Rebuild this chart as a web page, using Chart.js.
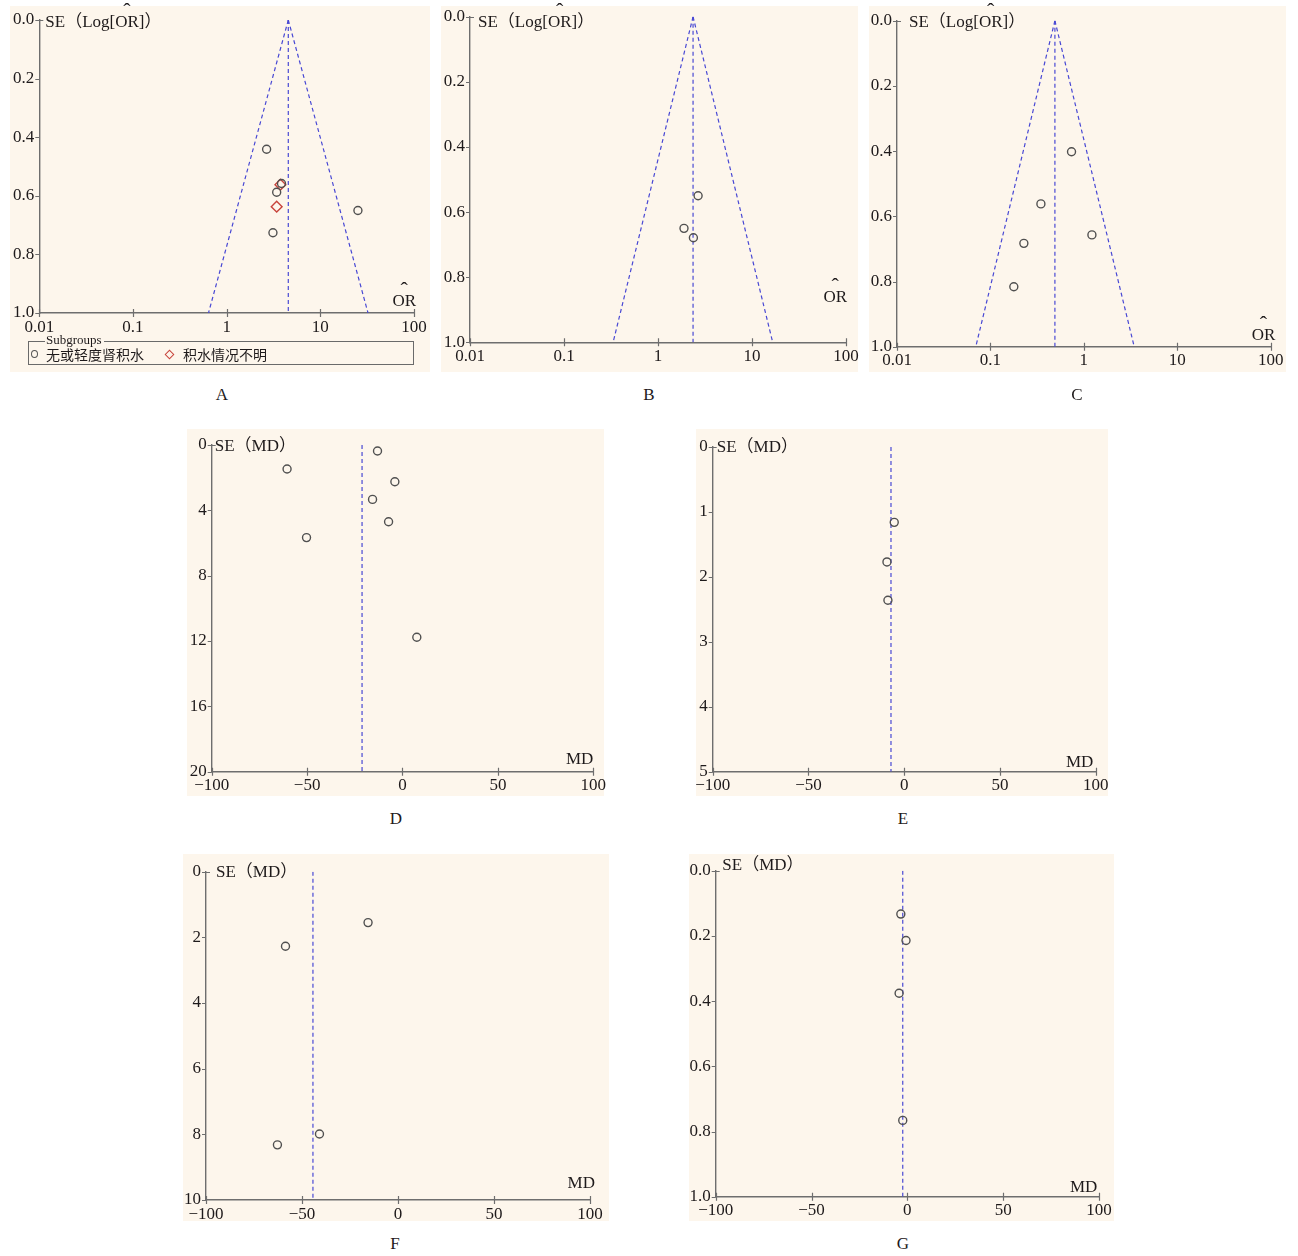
<!DOCTYPE html>
<html><head><meta charset="utf-8">
<script src="https://cdn.jsdelivr.net/npm/chart.js@4.4.1/dist/chart.umd.min.js"></script>
<style>
body{margin:0;background:#fff;width:1298px;height:1256px;position:relative;overflow:hidden;font-family:"Liberation Serif","Noto Sans CJK SC",serif;color:#1e1a1b;}
.bg{position:absolute;background:#FDF6EC;}
canvas.c{position:absolute;}
.lab{position:absolute;font-size:17px;transform:translate(-50%,-50%);line-height:1;}
#legbox{position:absolute;left:28px;top:341px;width:384px;height:22px;border:1px solid #6a6a6a;}
#legtitle{position:absolute;left:45px;top:333px;font-size:13px;line-height:13px;background:#FDF6EC;padding:0 2px 0 1px;}
.li{position:absolute;top:346px;font-family:"Noto Sans CJK SC",sans-serif;font-size:14px;line-height:16px;}
.mk-c{position:absolute;left:31px;top:350px;width:7px;height:8px;border:1.3px solid #555;border-radius:50%;box-sizing:border-box;}
.mk-d{position:absolute;left:166px;top:351px;width:7px;height:7px;border:1.4px solid #c8443c;transform:rotate(45deg);box-sizing:border-box;}
</style></head><body>
<script>
// ---------- tick values ----------
const orTicks = [0.01, 0.1, 1, 10, 100];
const mdTicks = [-100, -50, 0, 50, 100];
const seTicksOR = [0, 0.2, 0.4, 0.6, 0.8, 1.0];
const seTicksD = [0, 4, 8, 12, 16, 20];
const seTicksE = [0, 1, 2, 3, 4, 5];
const seTicksF = [0, 2, 4, 6, 8, 10];
const seTicksG = [0, 0.2, 0.4, 0.6, 0.8, 1.0];

// ---------- texts ----------
const orYTitle = ['SE（Log[', 'OR', ']）'];
const mdYTitle = 'SE（MD）';
const orXTitle = 'OR';
const mdXTitle = 'MD';
const subgroupTitle = 'Subgroups';
const subgroupNames = ['无或轻度肾积水', '积水情况不明'];
const panelLetters = ['A', 'B', 'C', 'D', 'E', 'F', 'G'];

// ---------- panel A (OR) ----------
const aCircleOR = [2.67, 3.85, 3.42, 25.2, 3.12];
const aCircleSE = [0.441, 0.558, 0.588, 0.650, 0.726];
const aDiamondOR = [3.75, 3.42];
const aDiamondSE = [0.562, 0.637];
const aPooled = 4.55, aLow = 0.64, aHigh = 32.3;

// ---------- panel B (OR) ----------
const bOR = [2.67, 1.89, 2.38];
const bSE = [0.550, 0.650, 0.679];
const bPooled = 2.36, bLow = 0.333, bHigh = 16.6;

// ---------- panel C (OR) ----------
const cOR = [0.738, 0.347, 1.22, 0.228, 0.178];
const cSE = [0.402, 0.562, 0.657, 0.683, 0.816];
const cPooled = 0.49, cLow = 0.0697, cHigh = 3.46;

// ---------- panel D (MD) ----------
const dMD = [-13.1, -60.5, -4.0, -15.7, -7.3, -50.3, 7.5];
const dSE = [0.37, 1.47, 2.25, 3.33, 4.70, 5.67, 11.77];
const dPooled = -21.2;

// ---------- panel E (MD) ----------
const eMD = [-5.2, -9.0, -8.5];
const eSE = [1.16, 1.77, 2.36];
const ePooled = -6.9;

// ---------- panel F (MD) ----------
const fMD = [-15.6, -58.6, -40.9, -62.8];
const fSE = [1.55, 2.27, 7.99, 8.32];
const fPooled = -44.3;

// ---------- panel G (MD) ----------
const gMD = [-3.4, -0.7, -4.3, -2.4];
const gSE = [0.133, 0.214, 0.376, 0.766];
const gPooled = -2.4;

// ---------- layout (page pixels) ----------
const LAYOUT = {
  A: {bg: [10, 6, 420, 366],  area: [39.3, 20, 414, 313],     se: [6, 7],    xl: [2, -7],     lab: [222, 394]},
  B: {bg: [441, 6, 417, 366], area: [470, 16.7, 846, 342.3],  se: [8, 10],   xl: [1, -40.6],  lab: [649, 394]},
  C: {bg: [869, 6, 417, 366], area: [897, 20.7, 1270.7, 346.7], se: [12, 6.6], xl: [4.6, -6.7], lab: [1077, 394]},
  D: {bg: [187, 429, 417, 367], area: [211.7, 445, 593.3, 771.7], se: [3, 6],  xl: [0, -7.4],   lab: [396, 818]},
  E: {bg: [696, 429, 412, 367], area: [712.7, 447, 1095.7, 771.7], se: [4, 5.3], xl: [-2.4, -5], lab: [903, 818]},
  F: {bg: [183, 854, 426, 367], area: [206, 871.7, 590, 1200],  se: [10, 5],  xl: [5, -11.7],  lab: [395, 1243]},
  G: {bg: [689, 854, 425, 367], area: [715.7, 870.7, 1099, 1196.7], se: [6.6, -0.7], xl: [-1.7, -5], lab: [903, 1243]}
};

const axisColor = '#6e6e6e';
const textColor = '#1e1a1b';
const lineBlue = '#4848d4';
const FONT = "'Liberation Serif', 'Noto Sans CJK SC', serif";
const M = 8;

function pts(xs, ys) { return xs.map((x, i) => ({x: x, y: ys[i]})); }
function circleDs(data) {
  return {data, showLine: false, pointStyle: 'circle', pointRadius: 4, pointHoverRadius: 4,
    pointBorderColor: '#505050', pointBackgroundColor: 'rgba(0,0,0,0)', pointBorderWidth: 1.4};
}
function diamondDs(data) {
  return {data, showLine: false, pointStyle: 'rectRot', pointRadius: 5.4, pointHoverRadius: 5.4,
    pointBorderColor: '#c8443c', pointBackgroundColor: 'rgba(0,0,0,0)', pointBorderWidth: 1.4};
}
function lineDs(data) {
  return {data, showLine: true, pointRadius: 0, pointHoverRadius: 0, borderColor: lineBlue,
    borderWidth: 1.2, borderDash: [4, 3], fill: false, tension: 0};
}
function funnelSets(pooled, low, high, seMax) {
  return [
    lineDs([{x: pooled, y: 0}, {x: low, y: seMax}]),
    lineDs([{x: pooled, y: 0}, {x: high, y: seMax}]),
    lineDs([{x: pooled, y: 0}, {x: pooled, y: seMax}])
  ];
}
function vlineSet(pooled, seMax) { return [lineDs([{x: pooled, y: 0}, {x: pooled, y: seMax}])]; }

function hatText(ctx, pre, word, post, x, y, align) {
  const wPre = ctx.measureText(pre).width, wW = ctx.measureText(word).width, wPost = ctx.measureText(post).width;
  const total = wPre + wW + wPost;
  const x0 = align === 'right' ? x - total : x;
  ctx.textAlign = 'left'; ctx.textBaseline = 'alphabetic';
  ctx.fillText(pre + word + post, x0, y);
  const f = ctx.font;
  ctx.font = '22px ' + FONT;
  ctx.textAlign = 'center';
  ctx.fillText('ˆ', x0 + wPre + wW / 2, y - 9);
  ctx.font = f;
}

const decor = {
  id: 'decor',
  afterDraw(chart, args, opts) {
    const ctx = chart.ctx, a = chart.chartArea, L = opts.L;
    const xs = chart.scales.x, ys = chart.scales.y;
    ctx.save();
    ctx.strokeStyle = axisColor; ctx.lineWidth = 1.2;
    ctx.beginPath();
    xs.ticks.forEach(t => { const px = Math.round(xs.getPixelForValue(t.value)) + 0.5; ctx.moveTo(px, a.bottom - 4); ctx.lineTo(px, a.bottom + 4); });
    ys.ticks.forEach((t, i) => { const py = Math.round(ys.getPixelForValue(t.value)) + 0.5; ctx.moveTo(a.left - 4, py); ctx.lineTo(a.left + (i === 0 ? 4 : 0), py); });
    ctx.stroke();
    ctx.fillStyle = textColor; ctx.font = '17px ' + FONT;
    if (opts.kind === 'or') {
      hatText(ctx, orYTitle[0], orYTitle[1], orYTitle[2], a.left + L.se[0], a.top + L.se[1], 'left');
      hatText(ctx, '', orXTitle, '', a.right + L.xl[0], a.bottom + L.xl[1], 'right');
    } else {
      ctx.textAlign = 'left'; ctx.textBaseline = 'alphabetic';
      ctx.fillText(mdYTitle, a.left + L.se[0], a.top + L.se[1]);
      ctx.textAlign = 'right';
      ctx.fillText(mdXTitle, a.right + L.xl[0], a.bottom + L.xl[1]);
    }
    ctx.restore();
  }
};

function fmtMD(v) { return v < 0 ? '\u2212' + Math.abs(v) : String(v); }

function makePanel(key, kind, datasets, xTicks, yTicks, yFmt) {
  const L = LAYOUT[key];
  const [bx, by, bw, bh] = L.bg;
  const [al, at, ar, ab] = L.area;
  const bg = document.createElement('div');
  bg.className = 'bg';
  Object.assign(bg.style, {left: bx + 'px', top: by + 'px', width: bw + 'px', height: bh + 'px'});
  document.body.appendChild(bg);
  const cv = document.createElement('canvas');
  cv.className = 'c';
  const cw = bw + 2 * M, ch = bh + 2 * M;
  cv.width = cw; cv.height = ch;
  Object.assign(cv.style, {left: (bx - M) + 'px', top: (by - M) + 'px', width: cw + 'px', height: ch + 'px'});
  document.body.appendChild(cv);
  const cx = bx - M, cy = by - M;
  const tickFont = {family: FONT, size: 17};
  new Chart(cv, {
    type: 'scatter',
    data: {datasets},
    options: {
      responsive: false, animation: false, devicePixelRatio: 1,
      layout: {padding: {left: 0, top: at - cy, right: cx + cw - ar, bottom: 0}},
      plugins: {legend: {display: false}, tooltip: {enabled: false}, decor: {L, kind}},
      scales: {
        x: {
          type: kind === 'or' ? 'logarithmic' : 'linear',
          min: xTicks[0], max: xTicks[xTicks.length - 1], position: 'bottom',
          grid: {display: false, drawTicks: false},
          border: {display: true, color: axisColor, width: 1.4},
          ticks: {font: tickFont, color: textColor, padding: 4, autoSkip: false, maxRotation: 0,
            callback: v => kind === 'or' ? String(v) : fmtMD(v)},
          afterBuildTicks: s => { s.ticks = xTicks.map(v => ({value: v})); },
          afterFit: s => { s.height = cy + ch - ab; s.paddingLeft = 0; s.paddingRight = 0; }
        },
        y: {
          type: 'linear', reverse: true, min: yTicks[0], max: yTicks[yTicks.length - 1], position: 'left',
          grid: {display: false, drawTicks: false},
          border: {display: true, color: axisColor, width: 1.4},
          ticks: {font: tickFont, color: textColor, padding: 5, autoSkip: false, callback: yFmt},
          afterBuildTicks: s => { s.ticks = yTicks.map(v => ({value: v})); },
          afterFit: s => { s.width = al - cx; s.paddingTop = 0; s.paddingBottom = 0; }
        }
      }
    },
    plugins: [decor]
  });
}

const f1 = v => Number(v).toFixed(1);
const f0 = v => String(v);

makePanel('A', 'or', [
  circleDs(pts(aCircleOR, aCircleSE)),
  diamondDs(pts(aDiamondOR, aDiamondSE)),
  ...funnelSets(aPooled, aLow, aHigh, 1)
], orTicks, seTicksOR, f1);

makePanel('B', 'or', [
  circleDs(pts(bOR, bSE)),
  ...funnelSets(bPooled, bLow, bHigh, 1)
], orTicks, seTicksOR, f1);

makePanel('C', 'or', [
  circleDs(pts(cOR, cSE)),
  ...funnelSets(cPooled, cLow, cHigh, 1)
], orTicks, seTicksOR, f1);

makePanel('D', 'md', [circleDs(pts(dMD, dSE)), ...vlineSet(dPooled, 20)], mdTicks, seTicksD, f0);
makePanel('E', 'md', [circleDs(pts(eMD, eSE)), ...vlineSet(ePooled, 5)], mdTicks, seTicksE, f0);
makePanel('F', 'md', [circleDs(pts(fMD, fSE)), ...vlineSet(fPooled, 10)], mdTicks, seTicksF, f0);
makePanel('G', 'md', [circleDs(pts(gMD, gSE)), ...vlineSet(gPooled, 1)], mdTicks, seTicksG, f1);

// legend of panel A
const lb = document.createElement('div'); lb.id = 'legbox'; document.body.appendChild(lb);
const lt = document.createElement('div'); lt.id = 'legtitle'; lt.textContent = subgroupTitle; document.body.appendChild(lt);
const mc = document.createElement('div'); mc.className = 'mk-c'; document.body.appendChild(mc);
const t1 = document.createElement('div'); t1.className = 'li'; t1.style.left = '46px'; t1.textContent = subgroupNames[0]; document.body.appendChild(t1);
const md = document.createElement('div'); md.className = 'mk-d'; document.body.appendChild(md);
const t2 = document.createElement('div'); t2.className = 'li'; t2.style.left = '183px'; t2.textContent = subgroupNames[1]; document.body.appendChild(t2);

// panel letters
Object.keys(LAYOUT).forEach((k, i) => {
  const d = document.createElement('div'); d.className = 'lab';
  d.style.left = LAYOUT[k].lab[0] + 'px'; d.style.top = LAYOUT[k].lab[1] + 'px';
  d.textContent = panelLetters[i];
  document.body.appendChild(d);
});
</script>
</body></html>
